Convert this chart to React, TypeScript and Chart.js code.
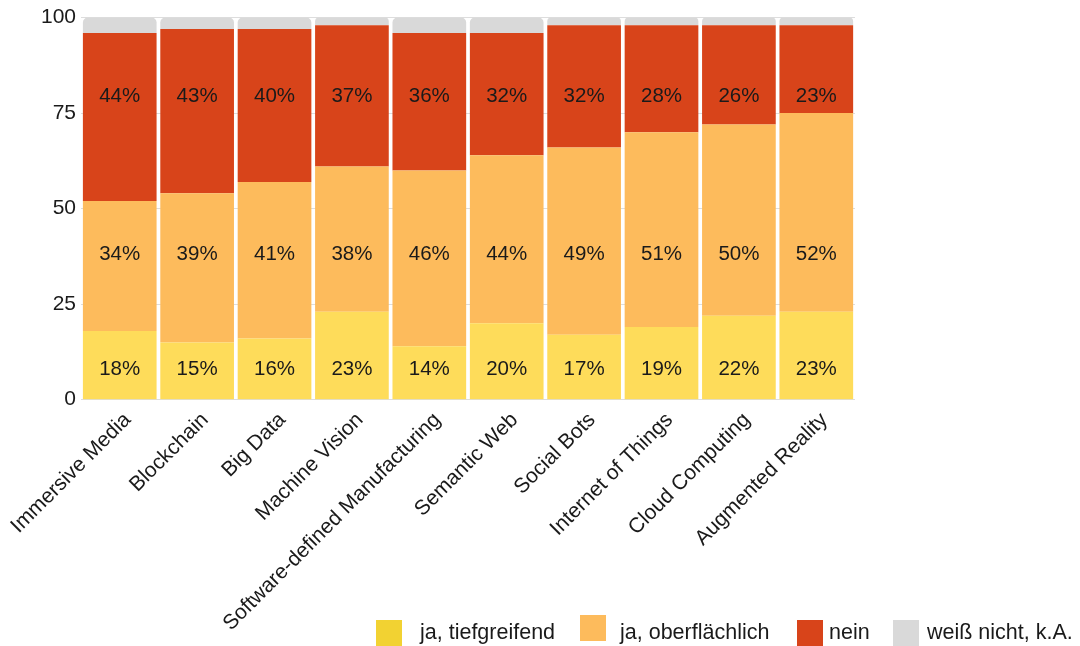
import React, { useEffect, useRef } from "react";
import { Chart, registerables } from "chart.js";

Chart.register(...registerables);

const categories = [
  "Immersive Media",
  "Blockchain",
  "Big Data",
  "Machine Vision",
  "Software-defined Manufacturing",
  "Semantic Web",
  "Social Bots",
  "Internet of Things",
  "Cloud Computing",
  "Augmented Reality",
];
const jaTief = [18, 15, 16, 23, 14, 20, 17, 19, 22, 23];
const jaOber = [34, 39, 41, 38, 46, 44, 49, 51, 50, 52];
const nein = [44, 43, 40, 37, 36, 32, 32, 28, 26, 23];
const weissNicht = [4, 3, 3, 2, 4, 4, 2, 2, 2, 2];
const seriesNames = ["ja, tiefgreifend", "ja, oberflächlich", "nein", "weiß nicht, k.A."];
const yTicks = [0, 25, 50, 75, 100];
// fixed vertical positions (in axis units) of the percentage labels per series
const labelLevels = [8, 38, 79.3];

const barColors = ["#FEDC5A", "#FDBB5C", "#D8441A", "#D9D9D9"];
const legendColors = ["#F2D232", "#FDBB5C", "#D8441A", "#D9D9D9"];
const FONT = "'Liberation Sans', Arial, sans-serif";

const labelPlugin = {
  id: "segLabels",
  afterDatasetsDraw(chart: any) {
    const ctx = chart.ctx;
    const yScale = chart.scales.y;
    ctx.save();
    ctx.font = `20.5px ${FONT}`;
    ctx.fillStyle = "#1a1a1a";
    ctx.textAlign = "center";
    ctx.textBaseline = "middle";
    [0, 1, 2].forEach((di) => {
      const meta = chart.getDatasetMeta(di);
      const data = chart.data.datasets[di].data as number[];
      meta.data.forEach((el: any, i: number) => {
        const y = yScale.getPixelForValue(labelLevels[di]);
        ctx.fillText(`${data[i]}%`, el.x, y);
      });
    });
    ctx.restore();
  },
};

export default function App() {
  const ref = useRef<HTMLCanvasElement>(null);
  useEffect(() => {
    document.body.style.margin = "0";
    const chart = new Chart(ref.current!, {
      type: "bar",
      data: {
        labels: categories,
        datasets: [jaTief, jaOber, nein, weissNicht].map((d, i) => ({
          label: seriesNames[i],
          data: d,
          backgroundColor: barColors[i],
          borderWidth: 0,
          borderRadius: i === 3 ? { topLeft: 5, topRight: 5, bottomLeft: 0, bottomRight: 0 } : 0,
          borderSkipped: false,
          categoryPercentage: 1,
          barPercentage: 0.952,
        })),
      },
      options: {
        responsive: false,
        animation: false,
        layout: { padding: { left: 36, right: 225, top: 8, bottom: 10 } },
        plugins: { legend: { display: false }, tooltip: { enabled: false } },
        scales: {
          x: {
            stacked: true,
            grid: { display: false },
            border: { display: false },
            ticks: {
              maxRotation: 45,
              minRotation: 45,
              color: "#1a1a1a",
              font: { family: FONT, size: 21 },
              padding: 0,
              labelOffset: 8,
              autoSkip: false,
            },
          },
          y: {
            stacked: true,
            min: 0,
            max: 100,
            afterBuildTicks: (s: any) => {
              s.ticks = yTicks.map((v) => ({ value: v }));
            },
            grid: { color: "#DDDDDD", drawTicks: false },
            border: { display: false },
            ticks: {
              color: "#1a1a1a",
              font: { family: FONT, size: 21 },
              padding: 5,
            },
          },
        },
      },
      plugins: [labelPlugin],
    });
    return () => chart.destroy();
  }, []);

  const legendItems = [
    { box: 376, boxTop: 620, text: 420 },
    { box: 580, boxTop: 615, text: 620 },
    { box: 797, boxTop: 620, text: 829 },
    { box: 893, boxTop: 620, text: 927 },
  ];

  return (
    <div style={{ position: "relative", width: 1080, height: 646, fontFamily: FONT }}>
      <canvas ref={ref} width={1080} height={646} style={{ display: "block" }} />
      {legendItems.map((it, i) => (
        <React.Fragment key={i}>
          <div
            style={{
              position: "absolute",
              left: it.box,
              top: it.boxTop,
              width: 26,
              height: 26,
              background: legendColors[i],
            }}
          />
          <div
            style={{
              position: "absolute",
              left: it.text,
              top: 619,
              fontSize: 21.5,
              lineHeight: "26px",
              color: "#1a1a1a",
              whiteSpace: "nowrap",
            }}
          >
            {seriesNames[i]}
          </div>
        </React.Fragment>
      ))}
    </div>
  );
}
